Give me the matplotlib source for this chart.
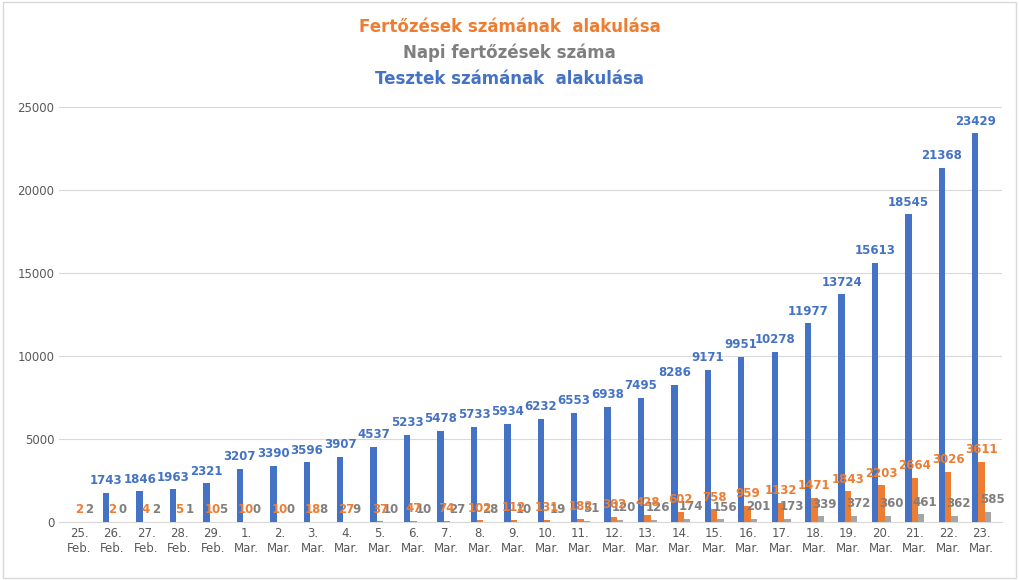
import matplotlib.pyplot as plt
import numpy as np

cats = ["25.\nFeb.","26.\nFeb.","27.\nFeb.","28.\nFeb.","29.\nFeb."] + [f"{d}.\nMar." for d in range(1,24)]
tests = [0,1743,1846,1963,2321,3207,3390,3596,3907,4537,5233,5478,5733,5934,6232,6553,6938,7495,8286,9171,9951,10278,11977,13724,15613,18545,21368,23429]
cases = [2,2,4,5,10,10,10,18,27,37,47,74,102,112,131,182,302,428,602,758,959,1132,1471,1843,2203,2664,3026,3611]
daily = [2,0,2,1,5,0,0,8,9,10,10,27,28,10,19,51,120,126,174,156,201,173,339,372,360,461,362,585]

blue, orange, gray = "#4472C4", "#ED7D31", "#A5A5A5"
fig = plt.figure(figsize=(10.19,5.8), dpi=100)
fig.patches.append(plt.Rectangle((0.003,0.003),0.994,0.994, transform=fig.transFigure, fill=False, ec="#D9D9D9", lw=1))
ax = fig.add_axes([0.058,0.1,0.925,0.715])
x = np.arange(len(cats))
w = 0.19
ax.bar(x-w, tests, w, color=blue, zorder=3)
ax.bar(x, cases, w, color=orange, zorder=3)
ax.bar(x+w, daily, w, color=gray, zorder=3)
for i in x:
    if tests[i] > 0:
        ax.text(i-w, tests[i]+350, str(tests[i]), ha="center", va="bottom", color=blue, fontsize=8.5, fontweight="bold")
    ax.text(i, cases[i]+350, str(cases[i]), ha="center", va="bottom", color=orange, fontsize=8.5, fontweight="bold", zorder=5)
    ax.text(i+w+0.12, daily[i]+350, str(daily[i]), ha="center", va="bottom", color="#7F7F7F", fontsize=8.5, fontweight="bold", zorder=4)
ax.set_ylim(0,25000)
ax.set_yticks(range(0,25001,5000))
ax.set_xlim(-0.6, len(cats)-0.4)
ax.set_xticks(x)
ax.set_xticklabels(cats, fontsize=8.5, color="#595959")
ax.tick_params(axis="y", labelsize=8.5, colors="#595959", length=0)
ax.tick_params(axis="x", length=0)
ax.grid(axis="y", color="#D9D9D9", zorder=0)
for s in ["top","right","left"]:
    ax.spines[s].set_visible(False)
ax.spines["bottom"].set_color("#D9D9D9")
fig.text(0.5,0.945,"Fertőzések számának  alakulása", ha="center", color=orange, fontsize=12, fontweight="bold")
fig.text(0.5,0.9,"Napi fertőzések száma", ha="center", color="#7F7F7F", fontsize=12, fontweight="bold")
fig.text(0.5,0.855,"Tesztek számának  alakulása", ha="center", color=blue, fontsize=12, fontweight="bold")
fig.savefig("out.png", dpi=100)
